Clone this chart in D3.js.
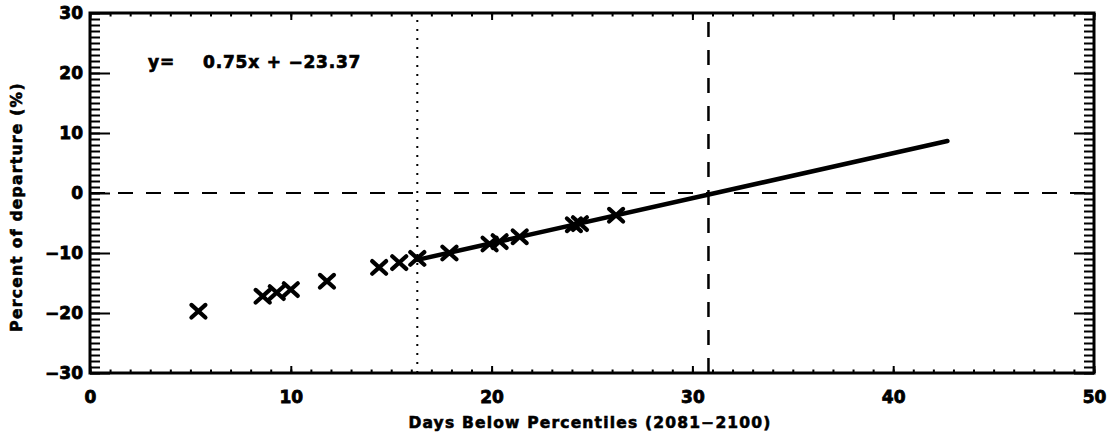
<!DOCTYPE html>
<html>
<head>
<meta charset="utf-8">
<script src="https://cdn.jsdelivr.net/npm/d3@7"></script>
<style>
  html, body { margin: 0; padding: 0; background: #fff; }
  svg { display: block; }
  text { font-family: "DejaVu Sans", "Liberation Sans", sans-serif; font-weight: bold; fill: #000; }
</style>
</head>
<body>
<svg id="chart" width="1109" height="435"></svg>
<script>
// ---- data ----
const xValues = [5.4, 8.6, 9.3, 10.0, 11.8, 14.4, 15.4, 16.3, 17.9, 19.9, 20.4, 21.4, 24.1, 24.4, 26.2];
const yValues = [-19.7, -17.2, -16.6, -16.1, -14.7, -12.4, -11.6, -10.9, -10.0, -8.5, -8.1, -7.3, -5.3, -5.1, -3.7];
const fitSlope = 0.75;
const fitIntercept = -23.37;
const fitRange = [16.3, 42.7];
const zeroLineY = [0];
const dashedLineX = [30.8];
const dottedLineX = [16.3];
const xDomain = [0, 50];
const yDomain = [-30, 30];
const xMajorTicks = [0, 10, 20, 30, 40, 50];
const yMajorTicks = [-30, -20, -10, 0, 10, 20, 30];
const xMinorTicks = d3.range(0, 51, 1);
const yMinorTicks = d3.range(-30, 31, 1);
const xTitle = "Days Below Percentiles (2081\u22122100)";
const yTitle = "Percent of departure (%)";
const equationLabel = "y=";
const equationBody = "0.75x + \u221223.37";

// ---- layout ----
const svg = d3.select("#chart");
const L = 90, R = 1094, T = 13, B = 373;
const x = d3.scaleLinear().domain(xDomain).range([L, R]);
const y = d3.scaleLinear().domain(yDomain).range([B, T]);
const fmt = d => d < 0 ? "\u2212" + Math.abs(d) : String(d);

// reference lines
svg.append("g").selectAll("line").data(zeroLineY).join("line")
  .attr("x1", x(xDomain[0])).attr("x2", x(xDomain[1]))
  .attr("y1", d => y(d)).attr("y2", d => y(d))
  .attr("stroke", "#000").attr("stroke-width", 2).attr("stroke-dasharray", "15,13");
svg.append("g").selectAll("line").data(dashedLineX).join("line")
  .attr("x1", d => x(d)).attr("x2", d => x(d))
  .attr("y1", y(yDomain[0])).attr("y2", y(yDomain[1]))
  .attr("stroke", "#000").attr("stroke-width", 2.5).attr("stroke-dasharray", "15,13");
svg.append("g").selectAll("line").data(dottedLineX).join("line")
  .attr("x1", d => x(d)).attr("x2", d => x(d))
  .attr("y1", y(yDomain[0])).attr("y2", y(yDomain[1]))
  .attr("stroke", "#000").attr("stroke-width", 2).attr("stroke-dasharray", "2,7");

// fit line
const fitPts = fitRange.map(v => [v, fitSlope * v + fitIntercept]);
svg.append("path")
  .attr("d", d3.line().x(d => x(d[0])).y(d => y(d[1]))(fitPts))
  .attr("stroke", "#000").attr("stroke-width", 4.5).attr("fill", "none").attr("stroke-linecap", "round");

// X markers
const pts = xValues.map((v, i) => [v, yValues[i]]);
const s = 7;
svg.append("g").selectAll("path").data(pts).join("path")
  .attr("d", d => {
    const cx = x(d[0]), cy = y(d[1]);
    return `M${cx - s},${cy - s * 0.9}L${cx + s},${cy + s * 0.9}M${cx - s},${cy + s * 0.9}L${cx + s},${cy - s * 0.9}`;
  })
  .attr("stroke", "#000").attr("stroke-width", 4.2).attr("stroke-linecap", "round");

// axes
function styleAxis(g) {
  g.select(".domain").remove();
  g.selectAll(".tick line").attr("stroke", "#000").attr("stroke-width", 2);
  g.selectAll("text").style("font-size", "17px").attr("stroke", "#000").attr("stroke-width", 0.8);
}
// bottom
svg.append("g").attr("transform", `translate(0,${B})`)
  .call(d3.axisBottom(x).tickValues(xMinorTicks).tickSize(-3.5).tickFormat(""))
  .call(styleAxis);
svg.append("g").attr("transform", `translate(0,${B})`)
  .call(d3.axisBottom(x).tickValues(xMajorTicks).tickSize(-7).tickPadding(18).tickFormat(fmt))
  .call(styleAxis);
// top
svg.append("g").attr("transform", `translate(0,${T})`)
  .call(d3.axisTop(x).tickValues(xMinorTicks).tickSize(-3.5).tickFormat(""))
  .call(styleAxis);
svg.append("g").attr("transform", `translate(0,${T})`)
  .call(d3.axisTop(x).tickValues(xMajorTicks).tickSize(-7).tickFormat(""))
  .call(styleAxis);
// left
svg.append("g").attr("transform", `translate(${L},0)`)
  .call(d3.axisLeft(y).tickValues(yMinorTicks).tickSize(-10).tickFormat(""))
  .call(styleAxis);
svg.append("g").attr("transform", `translate(${L},0)`)
  .call(d3.axisLeft(y).tickValues(yMajorTicks).tickSize(-20).tickPadding(7).tickFormat(fmt))
  .call(styleAxis);
// right
svg.append("g").attr("transform", `translate(${R},0)`)
  .call(d3.axisRight(y).tickValues(yMinorTicks).tickSize(-10).tickFormat(""))
  .call(styleAxis);
svg.append("g").attr("transform", `translate(${R},0)`)
  .call(d3.axisRight(y).tickValues(yMajorTicks).tickSize(-20).tickFormat(""))
  .call(styleAxis);

// frame
svg.append("rect").attr("x", L).attr("y", T).attr("width", R - L).attr("height", B - T)
  .attr("fill", "none").attr("stroke", "#000").attr("stroke-width", 3);

// titles
svg.append("text").attr("x", (L + R) / 2 - 2).attr("y", 428).attr("text-anchor", "middle")
  .style("font-size", "15.5px").style("letter-spacing", "1.2px").attr("stroke", "#000").attr("stroke-width", 0.6).text(xTitle);
svg.append("text").attr("transform", `translate(22,${(T + B) / 2 + 14}) rotate(-90)`).attr("text-anchor", "middle")
  .style("font-size", "15.5px").style("letter-spacing", "1.3px").attr("stroke", "#000").attr("stroke-width", 0.6).text(yTitle);
const eq = svg.append("text").attr("y", 68).attr("xml:space", "preserve")
  .style("font-size", "17px").style("letter-spacing", "0.8px").style("white-space", "pre")
  .attr("stroke", "#000").attr("stroke-width", 0.7);
eq.append("tspan").attr("x", 148).text(equationLabel);
eq.append("tspan").attr("x", 203).text(equationBody);
</script>
</body>
</html>
